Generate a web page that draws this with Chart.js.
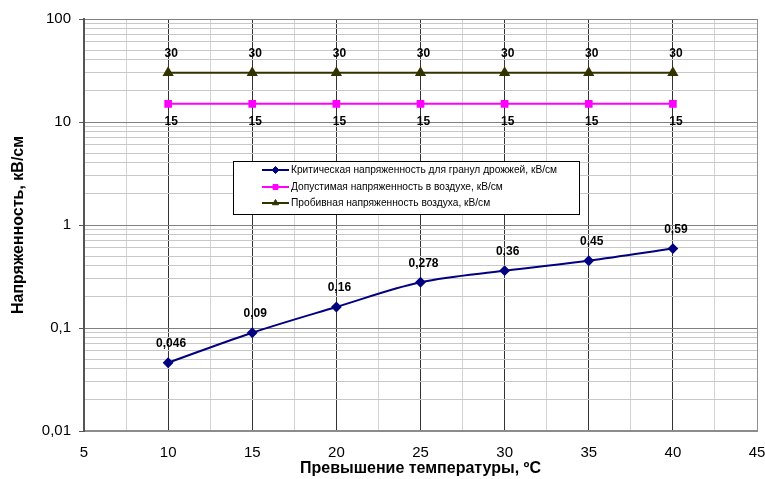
<!DOCTYPE html>
<html>
<head>
<meta charset="utf-8">
<script src="https://cdn.jsdelivr.net/npm/chart.js@4/dist/chart.umd.min.js"></script>
<style>
  html, body { margin: 0; padding: 0; background: #fff; }
  #wrap { width: 765px; height: 479px; position: relative; }
</style>
</head>
<body>
<div id="wrap"><canvas id="c" width="765" height="479"></canvas></div>
<script>
// ---- data ----
const temperatures = [10, 15, 20, 25, 30, 35, 40];
const criticalYeast = [0.046, 0.09, 0.16, 0.278, 0.36, 0.45, 0.59];
const allowedAir = [15, 15, 15, 15, 15, 15, 15];
const breakdownAir = [30, 30, 30, 30, 30, 30, 30];
const seriesNames = [
  'Критическая напряженность для гранул дрожжей, кВ/см',
  'Допустимая напряженность в воздухе, кВ/см',
  'Пробивная напряженность воздуха, кВ/см'
];
const xTickValues = [5, 10, 15, 20, 25, 30, 35, 40, 45];
const yTickValues = [0.01, 0.1, 1, 10, 100];
const yTickLabels = ['0,01', '0,1', '1', '10', '100'];
const xTitle = 'Превышение температуры, ºC';
const yTitle = 'Напряженность, кВ/см';

const seriesValues = [criticalYeast, allowedAir, breakdownAir];
const colors = ['#000080', '#FF00FF', '#333300'];
const pointStyles = ['rectRot', 'rect', 'triangle'];
const labelSides = ['above', 'below', 'above'];

function fmt(v) { return String(v).replace('.', ','); }

function buildLogTicks() {
  const out = [];
  for (let d = 0; d < yTickValues.length; d++) {
    const base = yTickValues[d];
    out.push({ value: base });
    if (d < yTickValues.length - 1) {
      for (let m = 2; m <= 9; m++) out.push({ value: +(base * m).toPrecision(6) });
    }
  }
  return out;
}
function isDecade(v) { return yTickValues.some(t => Math.abs(t - v) < t * 1e-6); }

const dataLabelPlugin = {
  id: 'dataLabels',
  afterDatasetsDraw(chart) {
    const ctx = chart.ctx;
    ctx.save();
    ctx.font = 'bold 12px "Liberation Sans", Arial, sans-serif';
    ctx.fillStyle = '#000';
    ctx.textAlign = 'center';
    ctx.textBaseline = 'middle';
    seriesValues.forEach((vals, i) => {
      const meta = chart.getDatasetMeta(i);
      meta.data.forEach((pt, j) => {
        const dy = labelSides[i] === 'above' ? -19 : 18;
        ctx.fillText(fmt(vals[j]), pt.x + 3, pt.y + dy);
      });
    });
    ctx.restore();
  }
};

const legendBoxPlugin = {
  id: 'legendBox',
  afterDraw(chart) {
    const ctx = chart.ctx;
    const x0 = 233, y0 = 161, w = 346, h = 53;
    ctx.save();
    ctx.fillStyle = '#fff';
    ctx.fillRect(x0, y0, w, h);
    ctx.strokeStyle = '#000';
    ctx.lineWidth = 1;
    ctx.strokeRect(x0 + 0.5, y0 + 0.5, w, h);
    const rows = [170, 187, 203];
    ctx.font = '10.2px "Liberation Sans", Arial, sans-serif';
    ctx.textBaseline = 'middle';
    ctx.textAlign = 'left';
    seriesNames.forEach((name, i) => {
      const y = rows[i];
      ctx.strokeStyle = colors[i];
      ctx.lineWidth = 2;
      ctx.beginPath();
      ctx.moveTo(262, y); ctx.lineTo(289, y); ctx.stroke();
      ctx.fillStyle = colors[i];
      ctx.lineWidth = 1;
      Chart.helpers.drawPoint(ctx, { pointStyle: pointStyles[i], radius: 3.5, borderWidth: 1, rotation: 0 }, 275.5, y);
      ctx.fillStyle = '#000';
      ctx.fillText(name, 291, y);
    });
    ctx.restore();
  }
};

new Chart(document.getElementById('c'), {
  type: 'line',
  data: {
    datasets: seriesValues.map((vals, i) => ({
      label: seriesNames[i],
      data: vals.map((v, j) => ({ x: temperatures[j], y: v })),
      borderColor: colors[i],
      backgroundColor: colors[i],
      pointBackgroundColor: colors[i],
      pointBorderColor: colors[i],
      pointStyle: pointStyles[i],
      pointRadius: i === 2 ? 4.5 : 4,
      borderWidth: 2,
      tension: i === 0 ? 0.35 : 0,
      fill: false
    }))
  },
  options: {
    responsive: false,
    animation: false,
    events: [],
    layout: { padding: { top: 19, right: 8, left: 0, bottom: 0 } },
    plugins: { legend: { display: false }, tooltip: { enabled: false } },
    scales: {
      x: {
        type: 'linear',
        min: 5, max: 45,
        afterBuildTicks(scale) {
          const t = [];
          for (let k = 0; k < xTickValues.length; k++) {
            t.push({ value: xTickValues[k] });
            if (k < xTickValues.length - 1) t.push({ value: (xTickValues[k] + xTickValues[k + 1]) / 2 });
          }
          scale.ticks = t;
        },
        afterFit(scale) { scale.height = 48; scale.paddingRight = 0; scale.paddingLeft = 0; },
        ticks: {
          autoSkip: false,
          maxRotation: 0,
          padding: 13,
          color: '#000',
          font: { family: '"Liberation Sans", Arial, sans-serif', size: 15 },
          callback(v) { return xTickValues.includes(v) ? String(v) : ''; }
        },
        grid: {
          drawTicks: false,
          color(c) {
            const v = c.tick && c.tick.value;
            if (v === 5) return 'rgba(0,0,0,0)';
            if (v === 45) return '#909090';
            return xTickValues.includes(v) ? '#333333' : '#d4d4d4';
          },
          lineWidth: 1
        },
        border: { color: '#8c8c8c', width: 2 },
        title: {
          display: true,
          text: xTitle,
          color: '#000',
          font: { family: '"Liberation Sans", Arial, sans-serif', size: 16, weight: 'bold' },
          padding: { top: 0, bottom: 1 }
        }
      },
      y: {
        type: 'logarithmic',
        min: 0.01, max: 100,
        afterBuildTicks(scale) { scale.ticks = buildLogTicks(); },
        afterFit(scale) { scale.width = 84; scale.paddingTop = 0; scale.paddingBottom = 0; },
        ticks: {
          autoSkip: false,
          padding: 8,
          color: '#000',
          font: { family: '"Liberation Sans", Arial, sans-serif', size: 15 },
          callback(v) {
            const k = yTickValues.findIndex(t => Math.abs(t - v) < t * 1e-6);
            return k >= 0 ? yTickLabels[k] : '';
          }
        },
        grid: {
          tickLength: 5,
          tickColor(c) { return c.tick && isDecade(c.tick.value) ? '#555' : 'rgba(0,0,0,0)'; },
          color(c) {
            const v = c.tick && c.tick.value;
            if (v == null) return '#ccc';
            if (Math.abs(v - 0.01) < 1e-9) return 'rgba(0,0,0,0)';
            return isDecade(v) ? '#808080' : '#c8c8c8';
          },
          lineWidth: 1
        },
        border: { color: '#555555', width: 2 },
        title: {
          display: true,
          text: yTitle,
          color: '#000',
          font: { family: '"Liberation Sans", Arial, sans-serif', size: 16, weight: 'bold' },
          padding: { top: 9, bottom: 0 }
        }
      }
    }
  },
  plugins: [dataLabelPlugin, legendBoxPlugin]
});
</script>
</body>
</html>
